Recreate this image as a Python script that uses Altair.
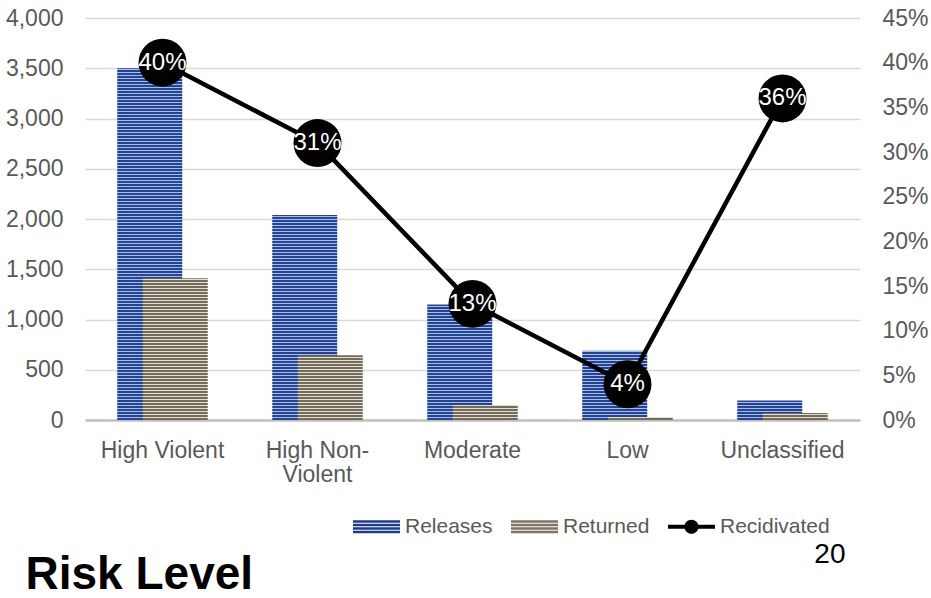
import altair as alt
import pandas as pd

# ---- data -------------------------------------------------------------
categories = ["High Violent", "High Non-Violent", "Moderate", "Low", "Unclassified"]
releases = [3500, 2040, 1150, 690, 195]
returned = [1410, 645, 150, 30, 70]
recidivated = [0.40, 0.31, 0.13, 0.04, 0.36]
series_names = ["Releases", "Returned", "Recidivated"]

count_ticks = list(range(0, 4001, 500))
rate_ticks = [i / 100 for i in range(0, 46, 5)]

# ---- styling ----------------------------------------------------------
PLOT_W, PLOT_H = 775, 402
COUNT_MAX = 4000
RATE_MAX = 0.45
DARK_PX, LIGHT_PX = 2, 1
GREY = "#595959"
FONT = "Liberation Sans"
stripe_colors = {
    "Releases": ("#25438f", "#a3bdee"),
    "Returned": ("#736b5b", "#e4dfd3"),
}
series_colors = ["#1f3c88", "#7d7565", "#000000"]

# legend swatches as custom symbol paths (unit square -1..1)
striped_swatch = (
    "M-1,-0.277H1V-0.167H-1Z M-1,-0.129H1V-0.019H-1Z "
    "M-1,0.019H1V0.129H-1Z M-1,0.167H1V0.277H-1Z"
)
line_swatch = "M-1,-0.085H1V0.085H-1Z M0.3,0A0.3,0.3,0,1,1,-0.3,0A0.3,0.3,0,1,1,0.3,0Z"
swatch_paths = [striped_swatch, striped_swatch, line_swatch]

bars_df = pd.DataFrame({
    "category": categories * 2,
    "series": ["Releases"] * len(categories) + ["Returned"] * len(categories),
    "value": releases + returned,
})
rate_df = pd.DataFrame({
    "category": categories,
    "series": "Recidivated",
    "value": recidivated,
})
legend_df = pd.DataFrame({"series": series_names})


def stripes(series, value):
    """Horizontal pin-stripe fill, laid out in whole pixels from the bar's base."""
    dark, light = stripe_colors[series]
    h = value / COUNT_MAX * PLOT_H
    segments = []  # (color, distance-from-base start, end)
    d = 0.0
    while d < h:
        segments.append((dark, d, min(d + DARK_PX, h)))
        if d + DARK_PX < h:
            segments.append((light, d + DARK_PX, min(d + DARK_PX + LIGHT_PX, h)))
        d += DARK_PX + LIGHT_PX
    stops = []
    for color, a, b in reversed(segments):
        top = round(max(0.0, (h - b) / h), 6)
        bottom = round(min(1.0, (h - a) / h), 6)
        stops += [{"offset": top, "color": color}, {"offset": bottom, "color": color}]
    return {"gradient": "linear", "x1": 0, "y1": 0, "x2": 0, "y2": 1, "stops": stops}


fill_conditions = [
    {"test": f"datum.series === '{s}' && datum.category === '{c}'", "value": stripes(s, v)}
    for s, c, v in zip(bars_df["series"], bars_df["category"], bars_df["value"])
]

split_label = (
    "indexof(datum.label, '-') > 0 ? "
    "[slice(datum.label, 0, indexof(datum.label, '-') + 1), "
    "slice(datum.label, indexof(datum.label, '-') + 1)] : datum.label"
)

x_enc = alt.X(
    "category:N",
    sort=categories,
    scale=alt.Scale(paddingInner=0, paddingOuter=0),
    axis=alt.Axis(
        title="Risk Level",
        labelAngle=0,
        labelFontSize=23,
        labelColor=GREY,
        labelFont=FONT,
        labelPadding=19,
        labelLineHeight=24,
        labelExpr=split_label,
        ticks=False,
        domainColor="#bfbfbf",
        domainWidth=2.5,
        grid=False,
        titleFontSize=46,
        titleFontWeight="bold",
        titleColor="#000000",
        titleFont=FONT,
        titleX=-60,
        titleY=168,
        titleAlign="left",
        titleBaseline="alphabetic",
        titleAnchor="start",
    ),
)

y_count = alt.Y(
    "value:Q",
    scale=alt.Scale(domain=[0, COUNT_MAX], nice=False),
    axis=alt.Axis(
        title=None,
        values=count_ticks,
        format=",.0f",
        labelFontSize=23,
        labelColor=GREY,
        labelFont=FONT,
        labelPadding=22,
        ticks=False,
        domain=False,
        grid=True,
        gridColor="#d9d9d9",
        gridWidth=1.5,
    ),
)

y_rate = alt.Y(
    "value:Q",
    scale=alt.Scale(domain=[0, RATE_MAX], nice=False),
    axis=alt.Axis(
        orient="right",
        values=rate_ticks,
        format=".0%",
        labelFontSize=23,
        labelColor=GREY,
        labelFont=FONT,
        labelPadding=22,
        ticks=False,
        domain=False,
        grid=False,
        title="20",
        titleAngle=0,
        titleX=-15,
        titleY=544,
        titleAlign="right",
        titleBaseline="alphabetic",
        titleFontSize=28,
        titleFontWeight="normal",
        titleColor="#000000",
        titleFont=FONT,
    ),
)

bars = alt.Chart(bars_df).mark_bar(width=65).encode(
    x=x_enc,
    xOffset=alt.XOffset(
        "series:N",
        sort=["Releases", "Returned"],
        scale=alt.Scale(range=[52, 103], paddingInner=0, paddingOuter=0),
    ),
    y=y_count,
    fill=alt.FillValue(value=series_colors[0], condition=fill_conditions),
)

line = alt.Chart(rate_df).mark_line(color="#000000", strokeWidth=4.5).encode(x=x_enc, y=y_rate)
dots = alt.Chart(rate_df).mark_circle(color="#000000", size=2300, opacity=1).encode(x=x_enc, y=y_rate)
dot_labels = alt.Chart(rate_df).mark_text(
    color="#ffffff", fontSize=24, font=FONT
).encode(x=x_enc, y=y_rate, text=alt.Text("value:Q", format=".0%"))

legend = alt.Legend(
    title=None,
    orient="none",
    legendX=268,
    legendY=485,
    direction="horizontal",
    symbolSize=2209,
    symbolStrokeWidth=0,
    symbolOpacity=1,
    labelFontSize=21,
    labelColor=GREY,
    labelFont=FONT,
    labelOffset=5,
    columnPadding=18,
    padding=0,
)
legend_layer = alt.Chart(legend_df).mark_point(filled=True, opacity=0).encode(
    color=alt.Color("series:N", sort=series_names,
                    scale=alt.Scale(domain=series_names, range=series_colors), legend=legend),
    shape=alt.Shape("series:N", sort=series_names,
                    scale=alt.Scale(domain=series_names, range=swatch_paths), legend=legend),
)

chart = (
    alt.layer(bars, alt.layer(line, dots, dot_labels), legend_layer)
    .resolve_scale(y="independent")
    .properties(
        width=PLOT_W,
        height=PLOT_H,
        autosize=alt.AutoSizeParams(type="none"),
        padding={"left": 85, "top": 18, "right": 71, "bottom": 178},
        background="#ffffff",
    )
    .configure_view(stroke=None)
)

chart.save("out.html", embed_options={"renderer": "svg", "actions": False})
